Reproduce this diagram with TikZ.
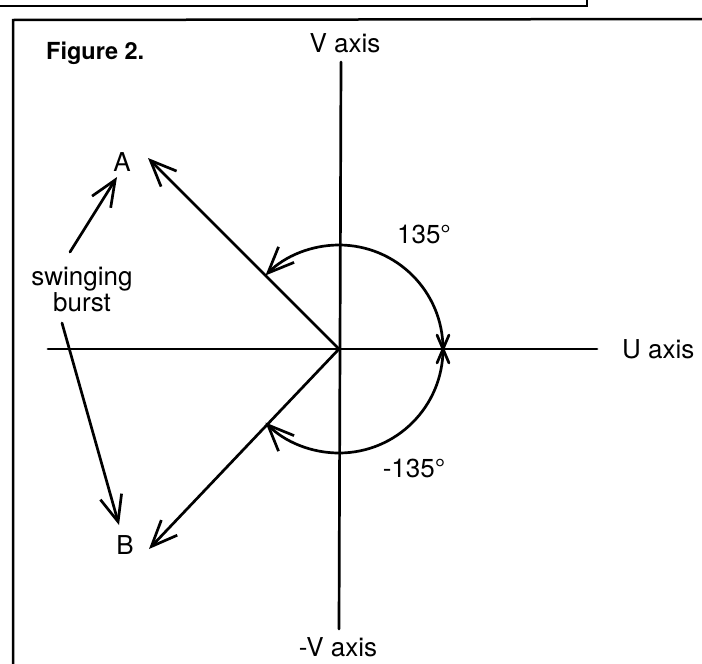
\documentclass[tikz,border=0pt]{standalone}
\usepackage{fontspec}
\setmainfont{TeX Gyre Heros}
\usetikzlibrary{arrows.meta}
\tikzset{
  lw/.style={line width=2.7pt, line cap=round},
  vec/.style={lw, -{Straight Barb[length=26pt,width=22pt]}},
  lbl/.style={anchor=base, inner sep=0pt, font=\fontsize{26}{30}\selectfont},
  framel/.style={line width=2.5pt}
}
\begin{document}
\begin{tikzpicture}[x=1pt,y=-1pt]
\useasboundingbox (0,0) rectangle (702,664);
% frames
\coordinate (f1) at (0,6);
\coordinate (f2) at (587,6);
\coordinate (f3) at (587,0);
\draw[framel] (f1) -- (f2) -- (f3);
\coordinate (g1) at (13,664);
\coordinate (g2) at (13,20);
\coordinate (g3) at (702,19);
\draw[framel] (g1) -- (g2) -- (g3);
% origin and axes
\coordinate (O) at (339,349);
\coordinate (uL) at (48,349);
\coordinate (uR) at (597,349);
\coordinate (vT) at (341,62);
\coordinate (vB) at (339,629);
\draw[lw] (uL) -- (uR);
\draw[lw] (vT) -- (vB);
% labels
\node[lbl, anchor=base west] (ulab) at (622,358) {U axis};
\node[lbl] (vlab) at (345,52) {V axis};
\node[lbl] (mvlab) at (338,656) {-V axis};
\node[lbl, anchor=base west, font=\fontsize{23.5}{28}\selectfont\bfseries] (fig) at (46,59) {Figure 2.};
\node[lbl] (A) at (122,171) {A};
\node[lbl] (B) at (125,554) {B};
\node[lbl] (sw) at (82,285) {swinging};
\node[lbl] (bu) at (82,311) {burst};
\node[lbl] (a1) at (424,243) {135°};
\node[lbl] (a2) at (414,477) {-135°};
% vectors
\coordinate (tA) at (148,158);
\coordinate (tB) at (149,549);
\draw[vec] (O) -- (tA);
\draw[vec] (O) -- (tB);
% swinging burst arrows
\coordinate (sA0) at (70,252);
\coordinate (sA1) at (117,177);
\coordinate (sB0) at (62,323);
\coordinate (sB1) at (119,525);
\draw[vec] (sA0) -- (sA1);
\draw[vec] (sB0) -- (sB1);
% arcs
\coordinate (R) at (443,349);
\draw[vec] (R) arc[start angle=0, end angle=135, radius=104pt];
\draw[vec] (R) arc[start angle=0, end angle=-135, radius=104pt];
% cross mark at start of arcs
\coordinate (m1) at (437,335);
\coordinate (m2) at (449,335);
\coordinate (m3) at (437,363);
\coordinate (m4) at (449,363);
\draw[lw] (m1) -- (R) -- (m2);
\draw[lw] (m3) -- (R) -- (m4);
\end{tikzpicture}
\end{document}
